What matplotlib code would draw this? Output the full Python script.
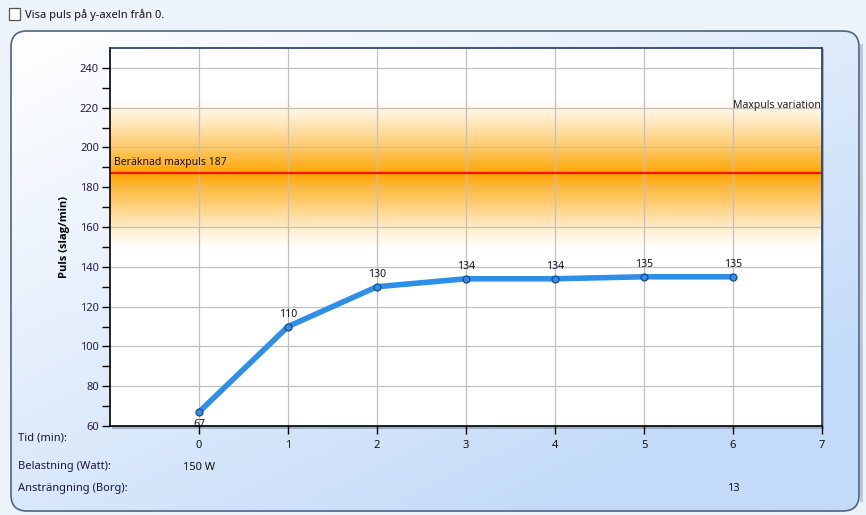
import numpy as np
import matplotlib
matplotlib.use("Agg")
import matplotlib.pyplot as plt
from matplotlib.patches import FancyBboxPatch, Rectangle
from matplotlib.colors import LinearSegmentedColormap

plt.rcParams['font.family'] = ['Noto Sans', 'DejaVu Sans']

# ---- data ----
tid = [0, 1, 2, 3, 4, 5, 6]
puls = [67, 110, 130, 134, 134, 135, 135]
x_ticks = [0, 1, 2, 3, 4, 5, 6, 7]
y_ticks = [60, 80, 100, 120, 140, 160, 180, 200, 220, 240]
maxpuls = 187
maxpuls_var = 38
belastning_label = "150 W"
belastning_at = 0
borg_label = "13"
borg_at = 6

W, H = 866, 515
fig = plt.figure(figsize=(W / 100, H / 100), dpi=100)

# background axes in pixel coords
bg = fig.add_axes([0, 0, 1, 1], zorder=0)
bg.set_xlim(0, W)
bg.set_ylim(H, 0)
bg.axis('off')
bg.add_patch(Rectangle((0, 0), W, H, facecolor='#EDF3FB', edgecolor='none'))
# panel gradient
gx, gy = np.meshgrid(np.linspace(0, 1, 200), np.linspace(0, 1, 200))
g = np.clip(0.55 * gx + 0.65 * gy, 0, 1)
cmap_bg = LinearSegmentedColormap.from_list('bgc', ['#FFFFFF', '#E2EDFB', '#C3DBF8'])
panel = FancyBboxPatch((11, 31), 848, 480, boxstyle="round,pad=0,rounding_size=16",
                       facecolor='none', edgecolor='#4F6380', linewidth=1.2, zorder=3)
im = bg.imshow(g, cmap=cmap_bg, extent=(11, 859, 511, 31), zorder=1, aspect='auto')
bg.add_patch(panel)
clip = FancyBboxPatch((11, 31), 848, 480, boxstyle="round,pad=0,rounding_size=16",
                      facecolor='none', edgecolor='none', transform=bg.transData)
bg.add_patch(clip)
im.set_clip_path(clip)
bg.plot([861, 861], [45, 500], color='#9AA8BA', lw=2, alpha=0.6, zorder=2)

# checkbox
bg.add_patch(Rectangle((9, 8), 11, 12, facecolor='white', edgecolor='#555555', lw=0.9, zorder=4))
bg.text(25, 15, "Visa puls på y-axeln från 0.", fontsize=8, va='center', ha='left', color='#111111')

# bottom labels
bg.text(18, 438, "Tid (min):", fontsize=8, va='center', ha='left', color='#1A1440', zorder=5)
bg.text(18, 467, "Belastning (Watt):", fontsize=8, va='center', ha='left', color='#1A1440', zorder=5)
bg.text(18, 488, "Ansträngning (Borg):", fontsize=8, va='center', ha='left', color='#1A1440', zorder=5)

# main axes
left, right = 110 / W, 822 / W
bottom, top = 1 - 426 / H, 1 - 48 / H
ax = fig.add_axes([left, bottom, right - left, top - bottom], zorder=2)
ax.set_xlim(-1, 7)
ax.set_ylim(60, 250)

# shadow behind plot
bg.add_patch(Rectangle((112, 49), 712, 380, facecolor='#6C7A8E', edgecolor='none', alpha=0.5, zorder=3))

# orange band
yy = np.linspace(60, 250, 600)
d = np.abs(yy - maxpuls) / maxpuls_var
alpha = np.clip(1 - d, 0, 1) ** 1.2
band = np.zeros((600, 2, 4))
band[..., 0] = 1.0
band[..., 1] = 0.647
band[..., 2] = 0.0
band[..., 3] = alpha[:, None]
ax.imshow(band, extent=(-1, 7, 60, 250), origin='lower', aspect='auto', zorder=1, interpolation='bilinear')

ax.set_xticks(x_ticks)
ax.set_yticks(y_ticks)
ax.set_yticks(np.arange(60, 250, 10), minor=True)
ax.grid(True, which='major', color='#C0C0C0', lw=0.9, zorder=2)
ax.set_axisbelow(False)
for gl in ax.get_xgridlines() + ax.get_ygridlines():
    gl.set_zorder(2)

ax.axhline(maxpuls, color='#FF1010', lw=1.6, zorder=3)
ax.text(-0.95, maxpuls + 5.5, f"Beräknad maxpuls {maxpuls}", fontsize=7.5, ha='left', va='center', color='#111111', zorder=6)
ax.text(6.99, 221, "Maxpuls variation", fontsize=7.5, ha='right', va='center', color='#222222', zorder=6)

ax.plot(tid, puls, color='#2E8FE8', lw=4, solid_capstyle='round', solid_joinstyle='round', zorder=4)
ax.plot(tid, puls, 'o', ms=5, mfc='#2E8FE8', mec='#1A4A80', mew=0.9, zorder=5)
for i, (t, p) in enumerate(zip(tid, puls)):
    if i == 0:
        ax.text(t, p - 3.5, str(p), ha='center', va='top', fontsize=7.5, color='#111133', zorder=6)
    else:
        ax.text(t, p + 3.5, str(p), ha='center', va='bottom', fontsize=7.5, color='#111133', zorder=6)

ax.set_facecolor('white')
ax.spines['left'].set_color('black')
ax.spines['bottom'].set_color('black')
ax.spines['top'].set_color('#1F3A60')
ax.spines['right'].set_color('#1F3A60')
for s in ax.spines.values():
    s.set_linewidth(1.2)
    s.set_zorder(7)
ax.tick_params(axis='both', which='major', length=6, width=1, color='black', labelsize=8, pad=2)
ax.tick_params(axis='y', which='minor', length=6, width=1, color='black')
ax.tick_params(axis='y', labelcolor='#241C50')
ax.tick_params(axis='x', pad=4, labelcolor='#111111')
ax.set_ylabel("Puls (slag/min)", fontsize=8, fontweight='bold', labelpad=7,
              family=['Open Sans', 'DejaVu Sans'])

ax.text(belastning_at, -0.11, belastning_label, transform=ax.get_xaxis_transform(), ha='center', va='center',
        fontsize=8, color='#111111', clip_on=False)
ax.text(borg_at, -0.165, borg_label, transform=ax.get_xaxis_transform(), ha='center', va='center',
        fontsize=8, color='#111111', clip_on=False)

fig.savefig("out.png", dpi=100)
